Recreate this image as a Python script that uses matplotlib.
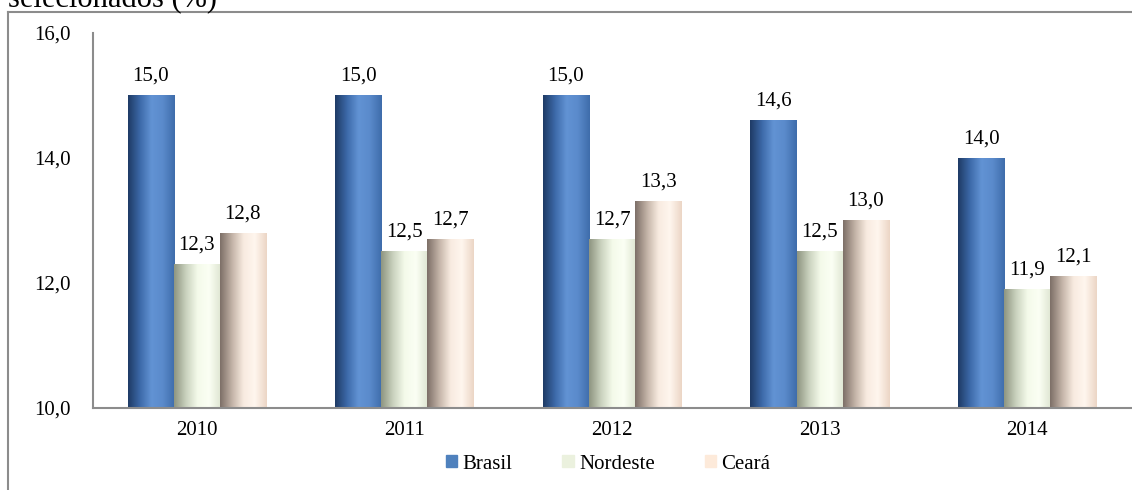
import numpy as np
import matplotlib.pyplot as plt
from matplotlib.colors import LinearSegmentedColormap
from matplotlib.patches import Rectangle
from matplotlib.lines import Line2D

plt.rcParams['font.family'] = ['Liberation Serif', 'DejaVu Serif']

anos = ['2010', '2011', '2012', '2013', '2014']
series = ['Brasil', 'Nordeste', 'Ceará']
brasil = [15.0, 15.0, 15.0, 14.6, 14.0]
nordeste = [12.3, 12.5, 12.7, 12.5, 11.9]
ceara = [12.8, 12.7, 13.3, 13.0, 12.1]
valores = [brasil, nordeste, ceara]

# base colour (legend) and horizontal gradient stops for the "cylinder" look
cores = ['#4F81BD', '#EBF1DE', '#FDEADA']
gradientes = [
    ['#1f3b66', '#3c69a8', '#6293d4', '#5a8acb', '#3f6dab'],
    ['#8f9682', '#c9d1bd', '#f4faea', '#fbfff4', '#dfe6d2'],
    ['#7e7068', '#c2b2a6', '#f8ebe0', '#fff6ee', '#ecd6c6'],
]

fs = 15

fig = plt.figure(figsize=(11.32, 4.90), dpi=100)
ax = fig.add_axes([93 / 1132, 1 - 408 / 490, (1131 - 93) / 1132, (408 - 33) / 490])

x = np.arange(len(anos))
w = 0.222
for i, (vals, grad) in enumerate(zip(valores, gradientes)):
    cmap = LinearSegmentedColormap.from_list(series[i], grad)
    img = np.linspace(0, 1, 64).reshape(1, -1)
    for xi, v in zip(x, vals):
        left = xi + (i - 1) * w - w / 2
        ax.imshow(img, cmap=cmap, aspect='auto', extent=(left, left + w, 10, v),
                  interpolation='bicubic', zorder=2)
        ax.annotate(f'{v:.1f}'.replace('.', ','), (left + w / 2, v),
                    xytext=(0, 7), textcoords='offset points',
                    ha='center', va='bottom', fontsize=fs)

ax.set_xlim(-0.5, len(anos) - 0.5)
ax.set_ylim(10, 16)
ax.set_yticks([10, 12, 14, 16])
ax.set_yticklabels(['10,0', '12,0', '14,0', '16,0'])
ax.set_xticks(x)
ax.set_xticklabels(anos)
ax.tick_params(length=0, labelsize=fs)
ax.tick_params(axis='x', pad=9)
ax.tick_params(axis='y', pad=16)
for s in ['top', 'right']:
    ax.spines[s].set_visible(False)
for s in ['left', 'bottom']:
    ax.spines[s].set_color('#8c8c8c')
    ax.spines[s].set_linewidth(1.5)

handles = [Rectangle((0, 0), 1, 1, color=c) for c in cores]
fig.legend(handles, series, loc='center', bbox_to_anchor=(608 / 1132, 1 - 464 / 490),
           ncol=3, frameon=False, fontsize=fs, handlelength=0.55, handleheight=0.55,
           handletextpad=0.25, columnspacing=2.4)

# outer frame, only top and left edges visible
fig.add_artist(Line2D([8 / 1132, 8 / 1132], [0, 1 - 12 / 490], transform=fig.transFigure,
                      color='#8c8c8c', lw=1.5))
fig.add_artist(Line2D([8 / 1132, 1], [1 - 12 / 490, 1 - 12 / 490], transform=fig.transFigure,
                      color='#8c8c8c', lw=1.5))

# title from the page above, clipped by the image edge as in the source
fig.text(8 / 1132, 1 - 7 / 490, 'selecionados (%)', fontsize=22, ha='left', va='baseline')

fig.savefig('out.png', dpi=100)
